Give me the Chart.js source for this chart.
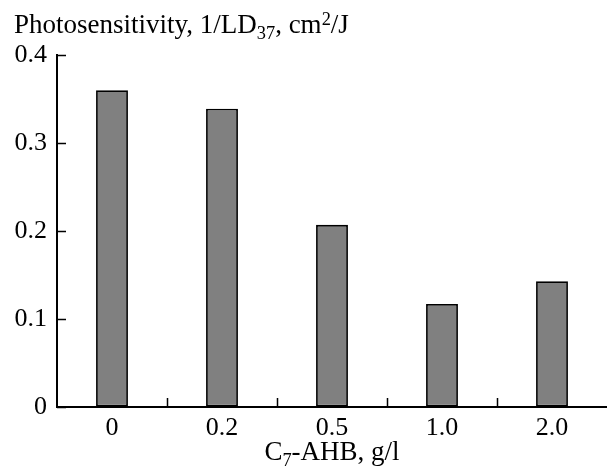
<!DOCTYPE html>
<html>
<head>
<meta charset="utf-8">
<script src="https://cdn.jsdelivr.net/npm/chart.js@4"></script>
<style>
  html, body { margin: 0; padding: 0; background: #fff; }
  #wrap { position: relative; width: 607px; height: 466px; }
  .lbl { position: absolute; font-family: "Liberation Serif", "Times New Roman", serif; font-size: 27px; line-height: 27px; color: #000; white-space: nowrap; }
  .sub { font-size: 0.68em; position: relative; top: 0.32em; }
  .sup { font-size: 0.68em; position: relative; top: -0.45em; }
  #yTitle { left: 14px; top: 11px; }
  #xTitle { left: 332px; top: 438px; transform: translateX(-50%); }
</style>
</head>
<body>
<div id="wrap">
  <canvas id="chart" width="607" height="466"></canvas>
  <div class="lbl" id="yTitle">Photosensitivity, 1/LD<span class="sub">37</span>, cm<span class="sup">2</span>/J</div>
  <div class="lbl" id="xTitle">C<span class="sub">7</span>-AHB, g/l</div>
</div>
<script>
// ─── DATA ───
const concentrations = ['0', '0.2', '0.5', '1.0', '2.0'];
const photosensitivity = [0.360, 0.339, 0.207, 0.117, 0.143];
const yTickValues = [0, 0.1, 0.2, 0.3, 0.4];

const FONT = { family: '"Liberation Serif", "Times New Roman", serif', size: 26 };

// ─── INWARD TICK MARKS ───
const inwardTicks = {
  id: 'inwardTicks',
  afterDraw(chart) {
    const ctx = chart.ctx;
    const x = chart.scales.x, y = chart.scales.y;
    const len = 9;
    ctx.save();
    ctx.strokeStyle = '#000';
    ctx.lineWidth = 1.5;
    ctx.beginPath();
    yTickValues.forEach(v => {
      const py = Math.round(y.getPixelForValue(v)) + 0.5;
      ctx.moveTo(x.left, py);
      ctx.lineTo(x.left + len, py);
    });
    const half = (x.getPixelForValue(1) - x.getPixelForValue(0)) / 2;
    for (let i = 0; i < concentrations.length - 1; i++) {
      const px = Math.round(x.getPixelForValue(i) + half) + 0.5;
      ctx.moveTo(px, y.bottom);
      ctx.lineTo(px, y.bottom - len);
    }
    ctx.stroke();
    ctx.restore();
  }
};

new Chart(document.getElementById('chart'), {
  type: 'bar',
  data: {
    labels: concentrations,
    datasets: [{
      data: photosensitivity,
      backgroundColor: '#808080',
      borderColor: '#000',
      borderWidth: 1.8,
      borderSkipped: false,
      barPercentage: 0.29,
      categoryPercentage: 1
    }]
  },
  options: {
    responsive: false,
    animation: false,
    layout: { padding: { top: 55, right: 0, left: 0, bottom: 0 } },
    plugins: { legend: { display: false }, tooltip: { enabled: false } },
    scales: {
      x: {
        grid: { display: true, drawOnChartArea: false, drawTicks: false },
        border: { display: true, color: '#000', width: 2 },
        ticks: { color: '#000', font: FONT, padding: 6, maxRotation: 0 },
        afterFit: s => { s.height = 59; }
      },
      y: {
        min: 0, max: 0.4,
        grid: { display: true, drawOnChartArea: false, drawTicks: false },
        border: { display: true, color: '#000', width: 2 },
        afterBuildTicks: s => { s.ticks = yTickValues.map(v => ({ value: v })); },
        ticks: {
          color: '#000', font: FONT, padding: 10,
          callback: v => v === 0 ? '0' : v.toFixed(1)
        },
        afterFit: s => { s.width = 57; }
      }
    }
  },
  plugins: [inwardTicks]
});
</script>
</body>
</html>
